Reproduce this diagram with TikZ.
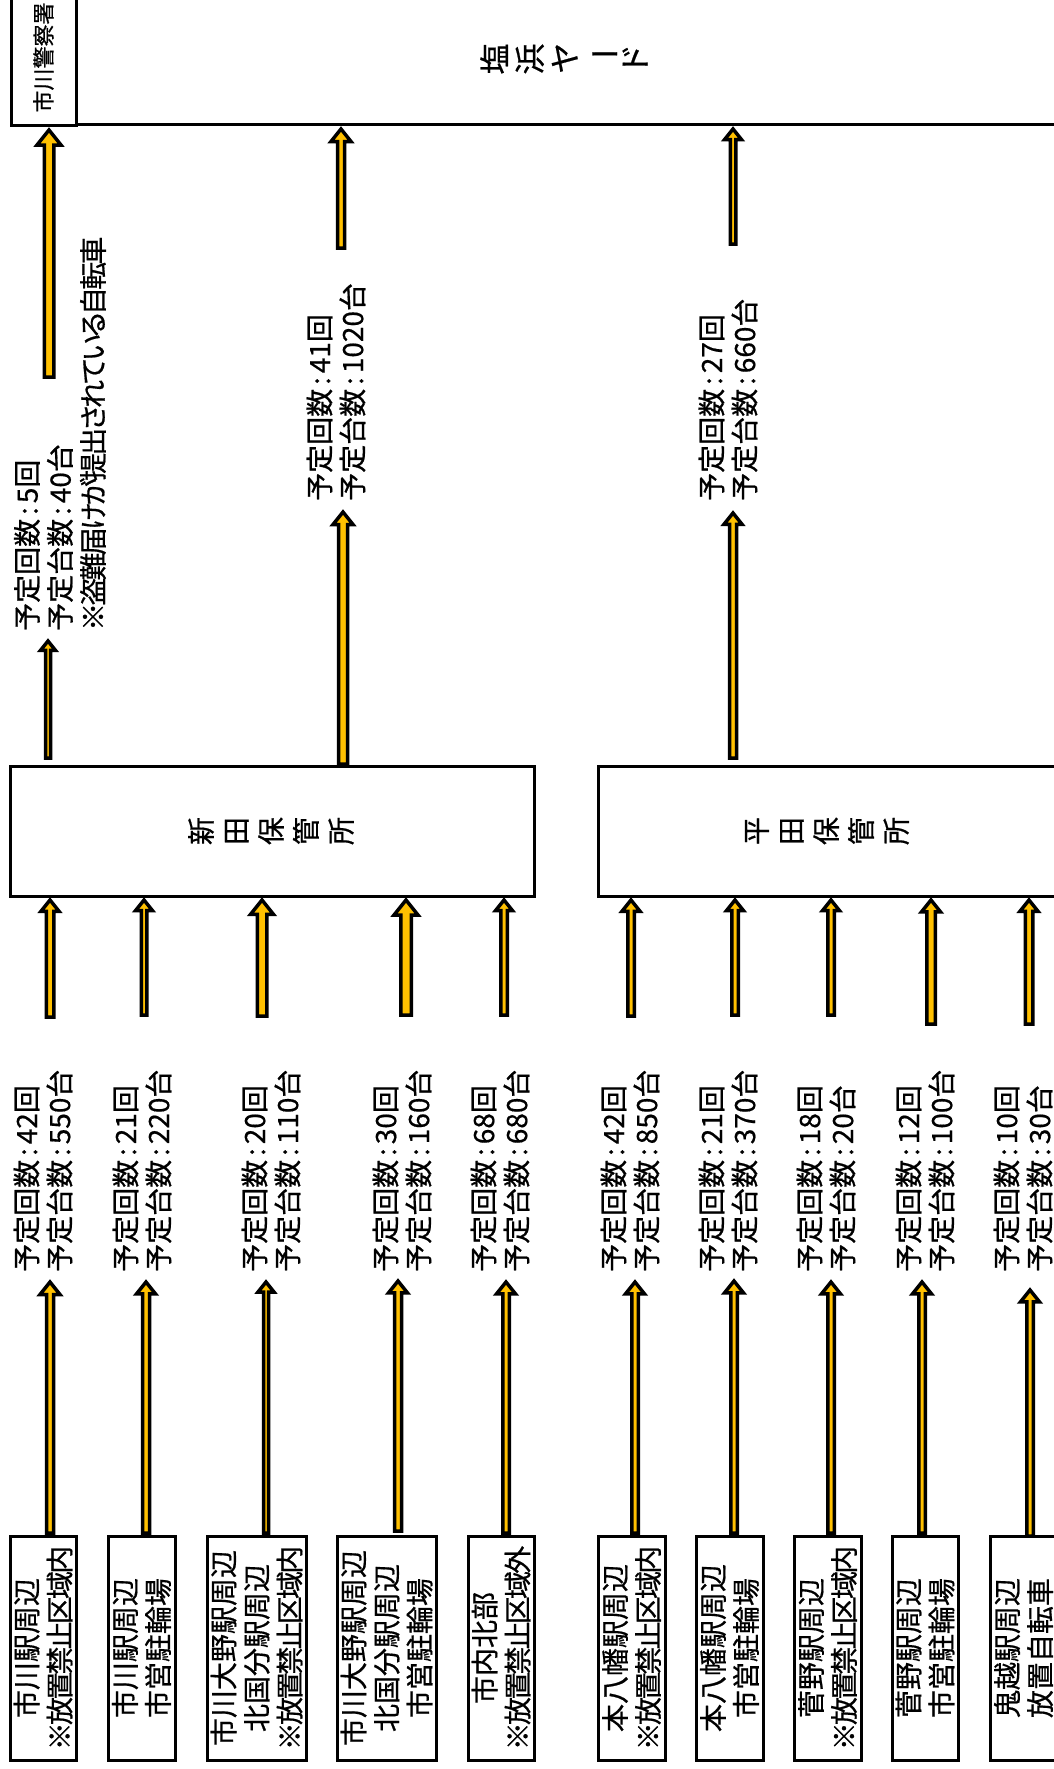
\documentclass[tikz,border=0pt]{standalone}
\usepackage{fontspec}
\setmainfont{Noto Sans CJK JP}[RawFeature=+palt,FakeBold=0.6]
\newfontfamily\condfont{Noto Sans CJK JP}[RawFeature=+palt,LetterSpace=-10,FakeBold=0.6]
\usetikzlibrary{calc}
\definecolor{ayellow}{HTML}{FFC000}
\newcommand\cln{\hspace{0.14em}:\hspace{0.14em}}
% block arrow: #1 shaft half width, #2 head half width, #3 start, #4 tip
\newcommand\barrow[4]{%
  \path[blockarrow] let \p1=(#3), \p2=(#4) in
    (\x1-#1pt,\y1) -- (\x1-#1pt,\y2-1.25*#2pt) -- (\x1-#2pt,\y2-1.25*#2pt) -- (\x1,\y2)
    -- (\x1+#2pt,\y2-1.25*#2pt) -- (\x1+#1pt,\y2-1.25*#2pt) -- (\x1+#1pt,\y1) -- cycle;}
\tikzset{
  blockarrow/.style={draw=black, fill=ayellow, line width=3.5pt, line join=miter, miter limit=20},
  lab/.style={rotate=90, anchor=west, align=left, inner sep=0pt, font=\fontsize{28}{33}\selectfont},
  srcbox/.style={draw, line width=3pt, rotate=90, minimum width=224pt, inner sep=0pt, align=center, font=\fontsize{28}{33}\selectfont},
  bigbox/.style={draw, line width=3pt, inner sep=0pt},
  tate/.style={rotate=90, align=center, inner sep=0pt},
}
\begin{document}
\begin{tikzpicture}[x=1pt,y=-1pt]
\useasboundingbox (0,0) rectangle (1054,1769);
\clip (0,0) rectangle (1054,1769);
\fill[white] (0,0) rectangle (1054,1769);

% ---------- top boxes ----------
\node[bigbox, rotate=90, minimum width=135pt, minimum height=65pt, font=\fontsize{22}{26}\selectfont] (police) at (43.5,57.5) {市川警察署};
\node[bigbox, minimum width=994pt, minimum height=134pt] (yard) at (573,57) {};
\node[tate, font=\fontsize{31}{35}\selectfont] (yardtext) at (564,59) {塩\\浜\\ヤ\\\rotatebox[origin=c]{-90}{ー}\\ド};

% ---------- storage boxes ----------
\node[bigbox, minimum width=524pt, minimum height=130pt] (nitta) at (272,831) {};
\node[tate, font=\fontsize{28}{35}\selectfont] (nittatext) at (271,831) {新\\田\\保\\管\\所};
\node[bigbox, minimum width=462pt, minimum height=130pt] (hirata) at (829,831) {};
\node[tate, font=\fontsize{28}{35}\selectfont] (hiratatext) at (827,831) {平\\田\\保\\管\\所};

% ---------- source boxes ----------
\node[srcbox, minimum height=66pt] (s1) at (43,1648) {市川駅周辺\\{\condfont ※放置禁止区域内}};
\node[srcbox, minimum height=67pt] (s2) at (141.5,1648) {市川駅周辺\\市営駐輪場};
\node[srcbox, minimum height=99pt] (s3) at (256.5,1648) {市川大野駅周辺\\北国分駅周辺\\{\condfont ※放置禁止区域内}};
\node[srcbox, minimum height=99pt] (s4) at (386.5,1648) {市川大野駅周辺\\北国分駅周辺\\市営駐輪場};
\node[srcbox, minimum height=66pt] (s5) at (501,1648) {市内北部\\{\condfont ※放置禁止区域外}};
\node[srcbox, minimum height=67pt] (s6) at (631.5,1648) {本八幡駅周辺\\{\condfont ※放置禁止区域内}};
\node[srcbox, minimum height=67pt] (s7) at (729.5,1648) {本八幡駅周辺\\市営駐輪場};
\node[srcbox, minimum height=67pt] (s8) at (827.5,1648) {菅野駅周辺\\{\condfont ※放置禁止区域内}};
\node[srcbox, minimum height=66pt] (s9) at (925,1648) {菅野駅周辺\\市営駐輪場};
\node[srcbox, minimum height=67pt] (s10) at (1023.5,1648) {鬼越駅周辺\\放置自転車};

% ---------- labels ----------
\node[lab] (lp) at (60,631) {予定回数\cln5回\\予定台数\cln40台\\{\condfont ※盗難届けが提出されている自転車}};
\node[lab] (lc1) at (336,501) {予定回数\cln41回\\予定台数\cln1020台};
\node[lab] (lc2) at (728,501) {予定回数\cln27回\\予定台数\cln660台};

\node[lab] (l1) at (43,1272) {予定回数\cln42回\\予定台数\cln550台};
\node[lab] (l2) at (142,1272) {予定回数\cln21回\\予定台数\cln220台};
\node[lab] (l3) at (271,1272) {予定回数\cln20回\\予定台数\cln110台};
\node[lab] (l4) at (402,1272) {予定回数\cln30回\\予定台数\cln160台};
\node[lab] (l5) at (500,1272) {予定回数\cln68回\\予定台数\cln680台};
\node[lab] (l6) at (630,1272) {予定回数\cln42回\\予定台数\cln850台};
\node[lab] (l7) at (728,1272) {予定回数\cln21回\\予定台数\cln370台};
\node[lab] (l8) at (826,1272) {予定回数\cln18回\\予定台数\cln20台};
\node[lab] (l9) at (925,1272) {予定回数\cln12回\\予定台数\cln100台};
\node[lab] (l10) at (1023,1272) {予定回数\cln10回\\予定台数\cln30台};

% ---------- arrow end points ----------
% source box -> label
\coordinate (a1s) at (50,1533);   \coordinate (a1t) at (50,1282);
\coordinate (a2s) at (146,1533);  \coordinate (a2t) at (146,1282);
\coordinate (a3s) at (266,1533);  \coordinate (a3t) at (266,1282);
\coordinate (a4s) at (398,1531);  \coordinate (a4t) at (398,1281);
\coordinate (a5s) at (506,1533);  \coordinate (a5t) at (506,1282);
\coordinate (a6s) at (635,1533);  \coordinate (a6t) at (635,1282);
\coordinate (a7s) at (734,1533);  \coordinate (a7t) at (734,1281);
\coordinate (a8s) at (831,1533);  \coordinate (a8t) at (831,1282);
\coordinate (a9s) at (922,1533);  \coordinate (a9t) at (922,1282);
\coordinate (a10s) at (1030,1536); \coordinate (a10t) at (1030,1290);
% label -> storage
\coordinate (b1s) at (50,1017);   \coordinate (b1t) at (50,900);
\coordinate (b2s) at (144,1015);  \coordinate (b2t) at (144,900);
\coordinate (b3s) at (262,1016);  \coordinate (b3t) at (262,900);
\coordinate (b4s) at (406,1015);  \coordinate (b4t) at (406,900);
\coordinate (b5s) at (504,1015);  \coordinate (b5t) at (504,900);
\coordinate (b6s) at (631,1016);  \coordinate (b6t) at (631,900);
\coordinate (b7s) at (735,1015);  \coordinate (b7t) at (735,900);
\coordinate (b8s) at (831,1015);  \coordinate (b8t) at (831,900);
\coordinate (b9s) at (931,1024);  \coordinate (b9t) at (931,900);
\coordinate (b10s) at (1029,1024); \coordinate (b10t) at (1029,900);
% storage -> police / yard
\coordinate (pls) at (48,758);  \coordinate (plt) at (48,641);
\coordinate (pus) at (49,377);  \coordinate (put) at (49,130);
\coordinate (c1ls) at (343,764); \coordinate (c1lt) at (343,512);
\coordinate (c1us) at (341,248); \coordinate (c1ut) at (341,129);
\coordinate (c2ls) at (733,758); \coordinate (c2lt) at (733,513);
\coordinate (c2us) at (733,244); \coordinate (c2ut) at (733,129);

% ---------- arrows ----------
\barrow{3.5}{10}{a1s}{a1t}
\barrow{3.5}{9.5}{a2s}{a2t}
\barrow{2.5}{8}{a3s}{a3t}
\barrow{3.5}{9.5}{a4s}{a4t}
\barrow{3.25}{9.5}{a5s}{a5t}
\barrow{3.25}{9.5}{a6s}{a6t}
\barrow{3.25}{9.5}{a7s}{a7t}
\barrow{3.25}{9.5}{a8s}{a8t}
\barrow{3.25}{9.5}{a9s}{a9t}
\barrow{3.25}{9.5}{a10s}{a10t}

\barrow{3.75}{9}{b1s}{b1t}
\barrow{2.75}{8.5}{b2s}{b2t}
\barrow{4.75}{11.5}{b3s}{b3t}
\barrow{5.25}{12}{b4s}{b4t}
\barrow{3.25}{8.5}{b5s}{b5t}
\barrow{3.25}{9}{b6s}{b6t}
\barrow{3.25}{8.5}{b7s}{b7t}
\barrow{3.25}{8.5}{b8s}{b8t}
\barrow{4.25}{9.5}{b9s}{b9t}
\barrow{3.75}{9}{b10s}{b10t}

\barrow{2.5}{7.5}{pls}{plt}
\barrow{4.75}{12}{pus}{put}
\barrow{4.5}{10}{c1ls}{c1lt}
\barrow{3.5}{10}{c1us}{c1ut}
\barrow{3.5}{9}{c2ls}{c2lt}
\barrow{2.75}{8.5}{c2us}{c2ut}
\end{tikzpicture}
\end{document}
